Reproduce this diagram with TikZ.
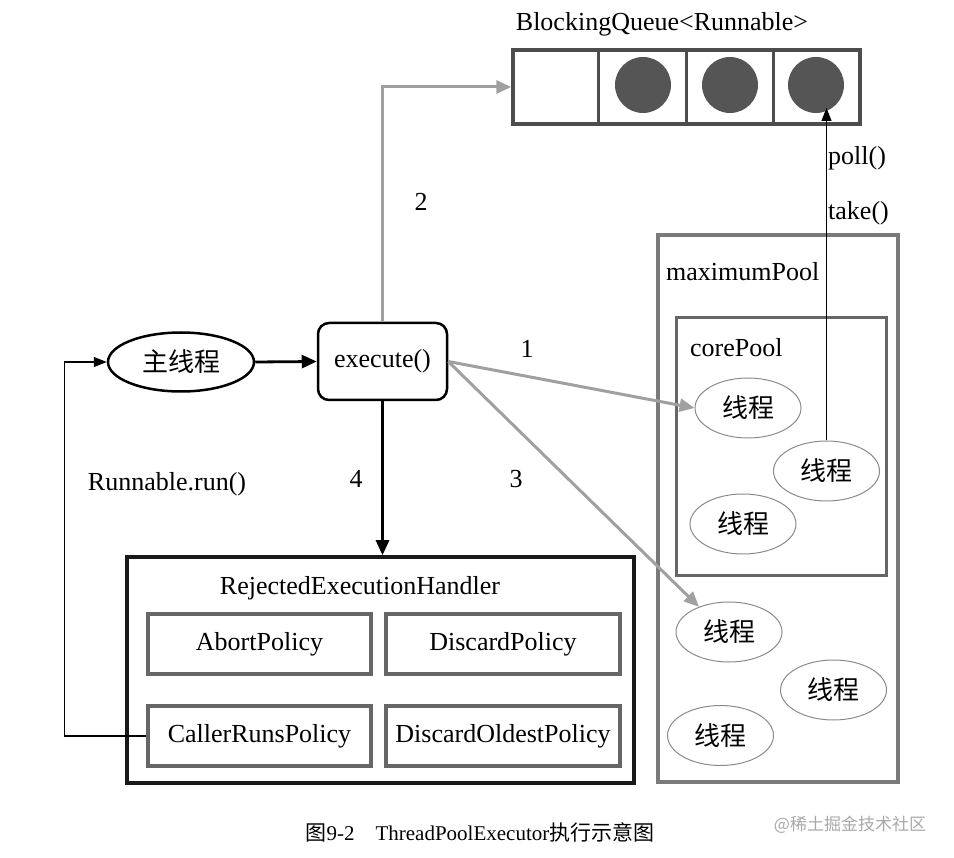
\documentclass[tikz,border=0pt]{standalone}
\usepackage{fontspec}
\setmainfont{Liberation Serif}
\newfontfamily\cjk{Noto Sans CJK SC}
\usetikzlibrary{shapes.geometric,arrows.meta}
\definecolor{qdark}{HTML}{4D4D4D}
\definecolor{ballc}{HTML}{555555}
\definecolor{arrg}{HTML}{A0A0A0}
\definecolor{poolg}{HTML}{7A7A7A}
\definecolor{thg}{HTML}{8A8A8A}
\definecolor{polg}{HTML}{666666}
\definecolor{wm}{HTML}{A8A8A8}
\begin{document}
\begin{tikzpicture}[x=1pt,y=-1pt,
  txt/.style={inner sep=0pt,font=\fontsize{26}{30}\selectfont},
  cjktxt/.style={inner sep=0pt,font=\fontsize{26}{30}\selectfont\cjk},
  thread/.style={ellipse,draw=thg,line width=1pt,minimum width=106pt,minimum height=60pt,inner sep=0pt,font=\fontsize{26}{30}\selectfont\cjk},
  ball/.style={circle,fill=ballc,minimum size=56pt,inner sep=0pt},
  policy/.style={rectangle,draw=polg,line width=3.5pt,minimum height=60pt,inner sep=0pt,font=\fontsize{26}{30}\selectfont},
  grayarrow/.style={draw=arrg,line width=3pt,-{Triangle[length=15pt,width=13pt]}},
  blackarrow/.style={draw=black,line width=2.8pt,-{Triangle[length=15pt,width=13pt]}},
  thinarrow/.style={draw=black,line width=1.2pt,-{Triangle[length=13pt,width=10pt]}}
]
\useasboundingbox (0,0) rectangle (954,858);

% Queue
\node[txt] (qlabel) at (662,24) {BlockingQueue<Runnable>};
\node[rectangle,draw=qdark,line width=3.5pt,minimum width=347pt,minimum height=74pt,inner sep=0pt] (q) at (686.5,87) {};
\draw[qdark,line width=3pt] (598,50) -- (598,124) (686,50) -- (686,124) (773,50) -- (773,124);
\node[ball] (c1) at (643,85) {};
\node[ball] (c2) at (730,85) {};
\node[ball] (c3) at (816,85) {};

% Pools
\node[rectangle,draw=poolg,line width=3.5pt,minimum width=240pt,minimum height=547pt,inner sep=0pt] (maxp) at (778,508.5) {};
\node[txt,anchor=west] (maxl) at (666,272) {maximumPool};
\node[rectangle,draw=polg,line width=3pt,minimum width=210pt,minimum height=258pt,inner sep=0pt] (corep) at (781,447) {};
\node[txt,anchor=west] (corel) at (690,348) {corePool};

\node[thread] (t1) at (748,408) {线程};
\node[thread] (t2) at (826.5,471) {线程};
\node[thread] (t3) at (743,524) {线程};
\node[thread] (m1) at (729,632) {线程};
\node[thread] (m2) at (833.5,690) {线程};
\node[thread] (m3) at (720.5,735.5) {线程};

% main thread and execute
\node[ellipse,draw=black,line width=2.5pt,minimum width=146pt,minimum height=59pt,inner sep=0pt,font=\fontsize{26}{30}\selectfont\cjk] (main) at (181,362) {主线程};
\node[rectangle,rounded corners=11pt,draw=black,line width=2.5pt,minimum width=129pt,minimum height=77pt,inner sep=0pt,font=\fontsize{26}{30}\selectfont] (exec) at (382.5,361.5) {execute()};

% Handler
\node[rectangle,draw=black!90,line width=3.5pt,minimum width=507pt,minimum height=226pt,inner sep=0pt] (handler) at (380.5,670) {};
\node[txt] (hlabel) at (360,588) {RejectedExecutionHandler};
\node[policy,minimum width=223pt] (abort) at (259.5,644) {AbortPolicy};
\node[policy,minimum width=234pt] (discard) at (503,644) {DiscardPolicy};
\node[policy,minimum width=223pt] (crp) at (259.5,736) {CallerRunsPolicy};
\node[policy,minimum width=234pt] (dop) at (503,736) {DiscardOldestPolicy};

% Connectors
\draw[blackarrow] (main.east) -- (exec.west);
\draw[grayarrow] (exec.north) |- (q.west);
\draw[grayarrow] (exec.east) -- (t1.west);
\draw[grayarrow] (exec.east) -- (m1.140);
\draw[blackarrow] (exec.south) -- (handler.north -| exec.south);
\coordinate (ptip) at (826.5,108);
\draw[thinarrow] (t2.north) -- (ptip);
\draw[thinarrow] (crp.west) -- ++(-82,0) |- (main.west);

% Labels
\node[txt] (l2) at (421,202) {2};
\node[txt] (l1) at (527,349) {1};
\node[txt] (l3) at (516,479) {3};
\node[txt] (l4) at (356,479) {4};
\node[txt] (lrun) at (167,484) {Runnable.run()};
\node[txt,anchor=west] (lpoll) at (828,158) {poll()};
\node[txt,anchor=west] (ltake) at (828,213) {take()};

% Caption and watermark
\node[inner sep=0pt,font=\fontsize{21}{25}\selectfont] (cap) at (480,832) {{\cjk 图}9-2\quad ThreadPoolExecutor{\cjk 执行示意图}};
\node[inner sep=0pt,text=wm,font=\fontsize{17}{20}\selectfont\cjk] (wmk) at (850,825) {@稀土掘金技术社区};
\end{tikzpicture}
\end{document}
